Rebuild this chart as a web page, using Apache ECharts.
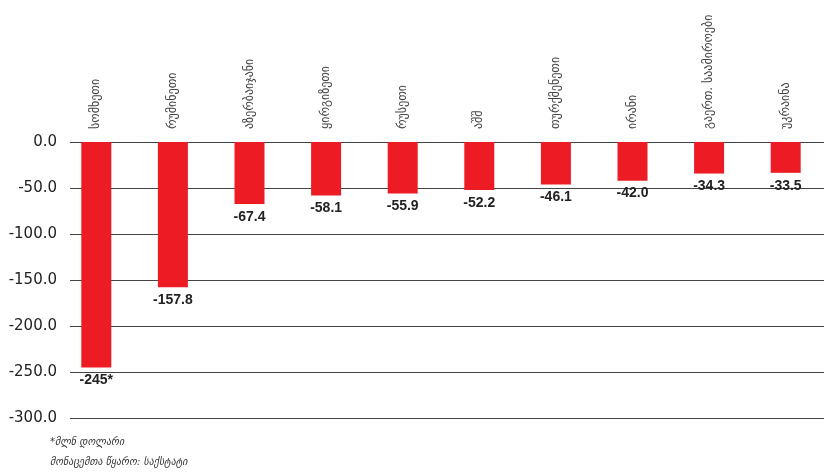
<!DOCTYPE html>
<html>
  <head>
    <meta charset="utf-8" />
    <title>chart</title>
    <script src="https://cdn.jsdelivr.net/npm/echarts@6/dist/echarts.min.js"></script>
    <style>
      html, body { margin: 0; padding: 0; background: #fff; }
      #main { width: 824px; height: 474px; }
    </style>
  </head>
  <body>
    <div id="main"></div>
    <script type="text/javascript">
      // categories and values
      var countries = [
        "სომხეთი",
        "რუმინეთი",
        "აზერბაიჯანი",
        "ყირგიზეთი",
        "რუსეთი",
        "აშშ",
        "თურქმენეთი",
        "ირანი",
        "გაერთ. საამიროები",
        "უკრაინა",
      ];
      var values = [-245, -157.8, -67.4, -58.1, -55.9, -52.2, -46.1, -42.0, -34.3, -33.5];
      var valueLabels = ["-245*", "-157.8", "-67.4", "-58.1", "-55.9", "-52.2", "-46.1", "-42.0", "-34.3", "-33.5"];

      var chart = echarts.init(document.getElementById("main"));

      var option = {
        animation: false,
        grid: [
          // grid for the horizontal lines and y labels
          { left: 70, right: 0, top: 142, bottom: 56 },
          // grid for bars (category bands wider than the lines)
          { left: 58, right: -17, top: 142, bottom: 56 },
        ],
        xAxis: [
          { gridIndex: 0, type: "value", show: false, min: 0, max: 1 },
          {
            gridIndex: 1,
            type: "category",
            position: "top",
            data: countries,
            axisLine: { show: false },
            axisTick: { show: false },
            axisLabel: {
              rotate: 90,
              margin: 13,
              fontSize: 12,
              color: "#444",
              fontFamily: "DejaVu Sans",
              interval: 0,
            },
          },
        ],
        yAxis: [
          {
            gridIndex: 0,
            type: "value",
            min: -300,
            max: 0,
            interval: 50,
            axisLine: { show: false },
            axisTick: { show: false },
            axisLabel: {
              margin: 13,
              fontSize: 15,
              color: "#222",
              fontFamily: "DejaVu Sans",
              formatter: function (v) {
                return v.toFixed(1);
              },
            },
            splitLine: { lineStyle: { color: "#444", width: 1 } },
          },
          { gridIndex: 1, type: "value", min: -300, max: 0, show: false },
        ],
        series: [
          {
            type: "bar",
            xAxisIndex: 1,
            yAxisIndex: 1,
            data: values,
            barWidth: 30,
            itemStyle: { color: "#ED1C24" },
            label: {
              show: true,
              position: "bottom",
              distance: 6,
              fontSize: 14,
              fontWeight: "bold",
              color: "#222",
              fontFamily: "Liberation Sans Narrow, Liberation Sans",
              formatter: function (p) {
                return valueLabels[p.dataIndex];
              },
            },
          },
        ],
        graphic: [
          {
            type: "text",
            left: 50,
            top: 437,
            style: { text: "*მლნ დოლარი", fontSize: 10, fontStyle: "italic", fill: "#333", fontFamily: "DejaVu Sans" },
          },
          {
            type: "text",
            left: 50,
            top: 457,
            style: { text: "მონაცემთა წყარო: საქსტატი", fontSize: 10, fontStyle: "italic", fill: "#333", fontFamily: "DejaVu Sans" },
          },
        ],
      };

      chart.setOption(option);
    </script>
  </body>
</html>
